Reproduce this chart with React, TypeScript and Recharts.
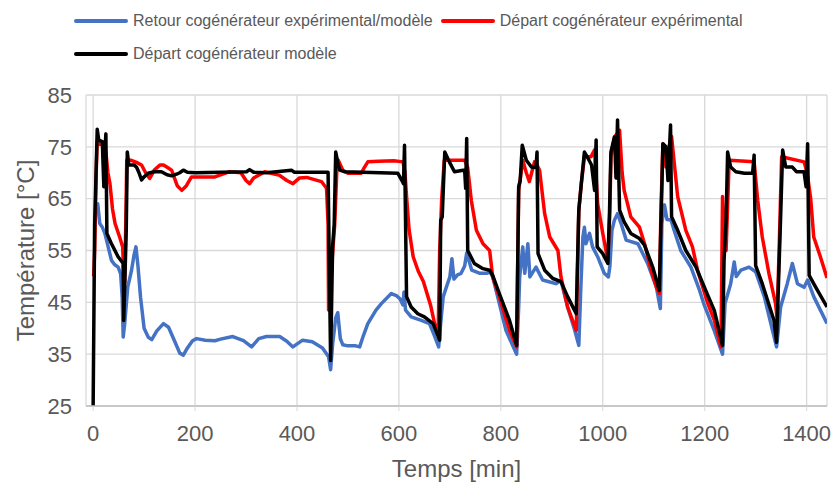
import React from 'react';
import { LineChart, Line, XAxis, YAxis, CartesianGrid, Label } from 'recharts';

// ---- Data (time in minutes, temperature in °C) ----
const retourT = [6, 9, 13, 18, 23, 30, 36, 42, 49, 54, 57, 59, 62, 68, 75, 80, 84, 88, 93, 100, 108, 115, 125, 138, 148, 160, 170, 177, 185, 195, 203, 220, 239, 250, 274, 295, 311, 325, 340, 366, 380, 392, 411, 430, 450, 462, 466, 470, 476, 480, 485, 490, 500, 515, 523, 530, 539, 555, 566, 585, 595, 602, 608, 610, 613, 624, 644, 660, 670, 678, 682, 687, 695, 700, 704, 708, 715, 722, 729, 733, 743, 759, 772, 779, 784, 797, 810, 831, 835, 837, 843, 847, 853, 857, 869, 882, 908, 918, 931, 945, 953, 957, 961, 964, 967, 974, 980, 990, 1003, 1011, 1014, 1018, 1023, 1029, 1036, 1046, 1069, 1088, 1105, 1113, 1116, 1121, 1126, 1134, 1140, 1153, 1173, 1190, 1199, 1219, 1235, 1240, 1251, 1258, 1262, 1271, 1287, 1300, 1317, 1333, 1341, 1349, 1362, 1372, 1382, 1395, 1402, 1414, 1440];
const retourV = [62, 64, 60.2, 59.5, 58.3, 55.5, 53.1, 52.3, 51.8, 50.5, 46, 38.3, 41, 48, 51, 54, 55.7, 52, 46, 40, 38.3, 37.8, 39.5, 40.9, 40.2, 37.5, 35.2, 34.8, 36.2, 37.6, 38, 37.7, 37.6, 37.9, 38.4, 37.6, 36.4, 38, 38.4, 38.4, 37.5, 36.4, 37.7, 37.4, 36.2, 34.5, 32, 37, 42, 43, 38, 36.8, 36.6, 36.6, 36.4, 38.5, 40.9, 43.5, 44.8, 46.7, 46.3, 45.7, 44.5, 47, 43.5, 42.2, 41.5, 40.9, 38.5, 36.4, 41, 46.1, 48.5, 49.9, 53.4, 49.5, 50.3, 50.6, 52, 54.5, 51.2, 50.6, 50.6, 50.9, 49.9, 44.8, 39.6, 35, 44, 49.9, 55.7, 50.6, 56.3, 49.9, 51.8, 49.3, 48.6, 49.2, 44.1, 39.6, 36.7, 48, 57.6, 59.5, 56.3, 58.3, 55.7, 53.8, 50.6, 49.9, 52, 58.9, 60.9, 62.1, 60.2, 57, 56.3, 52.5, 48, 43.8, 60.2, 63.8, 61, 60.9, 58.9, 55, 51.8, 47.3, 44.5, 39.5, 35, 44.8, 48.6, 52.8, 50, 51.2, 51.8, 50.9, 46.1, 39.6, 36.4, 44.1, 48.6, 52.5, 48.6, 47.9, 49.3, 46.1, 40.9];

const departExpT = [1, 3, 6, 8, 13, 20, 25, 29, 33, 38, 43, 52, 58, 60, 62, 64, 66, 75, 85, 95, 103, 111, 120, 131, 138, 146, 154, 165, 174, 183, 193, 215, 239, 268, 290, 300, 307, 315, 337, 366, 380, 392, 405, 419, 448, 458, 461, 462, 468, 474, 478, 481, 490, 500, 526, 532, 539, 560, 590, 608, 612, 615, 620, 628, 638, 648, 657, 662, 670, 677, 680, 684, 689, 695, 729, 735, 742, 752, 765, 778, 784, 797, 817, 831, 835, 843, 850, 856, 866, 871, 876, 886, 896, 912, 918, 931, 948, 953, 958, 964, 977, 984, 990, 1000, 1010, 1014, 1016, 1023, 1033, 1038, 1042, 1055, 1072, 1082, 1095, 1105, 1111, 1114, 1118, 1124, 1130, 1135, 1147, 1163, 1176, 1186, 1206, 1219, 1232, 1235, 1239, 1242, 1248, 1297, 1304, 1313, 1326, 1339, 1342, 1346, 1351, 1395, 1401, 1408, 1414, 1427, 1440];
const departExpV = [50, 55, 70, 76, 75.5, 75.5, 74, 70, 67.9, 63, 60.2, 57.6, 55.7, 50, 49, 60, 72.4, 72.4, 72, 71.5, 70, 68.9, 70.5, 71.5, 71.5, 71, 70.5, 67.5, 66.6, 67.5, 69.2, 69.2, 69.2, 70.2, 70, 68.5, 67.9, 69, 70.2, 69.5, 68.5, 67.9, 69, 69.1, 68.3, 67, 60, 43.5, 52, 60, 70, 72.4, 70.5, 69.9, 69.9, 71, 72.1, 72.2, 72.3, 72.1, 70, 65.4, 59, 53.8, 51, 49, 46.1, 44.5, 40.9, 39, 55, 65, 72.4, 72.4, 72.4, 71, 64.7, 58.9, 56.3, 55, 49.9, 46.1, 39.6, 36.4, 66.6, 72.4, 70, 68.3, 72.1, 71.5, 70.5, 62.1, 57.6, 55, 49.9, 44.1, 39.6, 62.8, 68, 73.1, 73.1, 74.4, 64, 58.3, 53.1, 63, 73.1, 76.9, 78.2, 70, 66.6, 61.5, 59.5, 56.3, 51.2, 48, 46.7, 62, 75.6, 71.1, 75, 77, 65.4, 58.9, 55.7, 51.2, 44.8, 41.5, 36.4, 65.4, 58, 55, 72.4, 72.1, 64.7, 57.6, 50.6, 44.8, 42, 55, 73.1, 72.1, 70, 65, 57.6, 53.8, 49.7];

const departModT = [0, 3, 8, 11, 18, 21, 23, 25, 27, 35, 49, 59, 60, 65, 67, 70, 80, 85, 90, 95, 100, 108, 120, 134, 145, 154, 165, 170, 177, 185, 200, 301, 307, 315, 340, 389, 395, 461, 466, 470, 473, 476, 480, 484, 494, 598, 606, 609, 611, 615, 624, 637, 650, 667, 680, 682, 685, 690, 699, 709, 726, 729, 731, 733, 735, 748, 765, 778, 784, 797, 817, 831, 835, 838, 842, 850, 860, 869, 871, 873, 886, 902, 918, 931, 948, 953, 958, 964, 971, 978, 984, 987, 989, 1000, 1010, 1013, 1016, 1023, 1026, 1029, 1033, 1042, 1055, 1072, 1082, 1098, 1111, 1118, 1124, 1128, 1133, 1135, 1147, 1163, 1183, 1202, 1219, 1235, 1238, 1242, 1245, 1251, 1261, 1278, 1294, 1297, 1300, 1313, 1336, 1341, 1348, 1353, 1359, 1372, 1380, 1395, 1399, 1402, 1405, 1418, 1440];
const departModV = [25, 60, 78.4, 76.3, 76, 67.3, 74, 77.5, 58.3, 56.5, 53.8, 52.5, 41.5, 59, 74, 71.5, 71.5, 71.1, 70, 68.6, 69.2, 69.9, 70.2, 70.2, 69.6, 69.4, 69.8, 70, 70.5, 70.1, 70, 70.2, 70.6, 70.1, 70, 70.5, 70.1, 70.1, 33.8, 56, 60, 74, 72, 70.5, 70.2, 69.9, 68.5, 67.9, 75.3, 46.1, 44.1, 42.8, 42.2, 40.9, 37.7, 60.8, 61.5, 74, 72.1, 70.2, 70.5, 70.5, 67, 76.6, 55, 52.5, 51.5, 51.2, 50.2, 46.7, 41.5, 36.7, 67.3, 68.5, 75.3, 72.4, 71.1, 71, 74, 54.4, 51.2, 49.6, 49, 46.1, 42.8, 62.8, 68, 74, 72.8, 71.5, 66.6, 76.3, 55.7, 54.4, 52.5, 61.5, 74, 76.9, 69, 80.2, 62.8, 60.5, 58.3, 57.3, 56, 51.8, 47.3, 75.6, 75, 68.5, 79.2, 61.5, 58.9, 55, 51.8, 47.3, 43.4, 36.7, 53.1, 60.9, 74, 71.1, 70.2, 69.9, 69.9, 73.4, 52.1, 48.6, 41.5, 37.3, 58.3, 74.4, 71.1, 71.1, 70.2, 70.2, 67.3, 75.6, 50.2, 47.9, 44.1];

const xTicks = [0, 200, 400, 600, 800, 1000, 1200, 1400];
const yTicks = [25, 35, 45, 55, 65, 75, 85];

const seriesNames = [
  'Retour cogénérateur expérimental/modèle',
  'Départ cogénérateur expérimental',
  'Départ cogénérateur modèle',
];
const seriesColors = ['#4472C4', '#FF0000', '#000000'];

const toPoints = (t: number[], v: number[]) => t.map((x, i) => ({ t: x, v: v[i] }));
const retourData = toPoints(retourT, retourV);
const departExpData = toPoints(departExpT, departExpV);
const departModData = toPoints(departModT, departModV);

const FONT = '"Liberation Sans", Arial, sans-serif';
const TEXT = '#595959';

function LegendBox() {
  return (
    <div
      style={{
        position: 'absolute',
        left: 74,
        top: 4,
        width: 700,
        display: 'flex',
        flexWrap: 'wrap',
        fontFamily: FONT,
        fontSize: 16,
        color: TEXT,
      }}
    >
      {seriesNames.map((name, i) => (
        <div key={name} style={{ display: 'flex', alignItems: 'center', height: 33, marginRight: 8 }}>
          <div style={{ width: 54, height: 4, background: seriesColors[i], borderRadius: 2, marginRight: 5 }} />
          <span style={{ whiteSpace: 'nowrap' }}>{name}</span>
        </div>
      ))}
    </div>
  );
}

export default function App() {
  return (
    <div style={{ position: 'absolute', left: 0, top: 0, width: 834, height: 482, background: '#fff' }}>
      <LegendBox />
      <LineChart width={834} height={482} margin={{ top: 95, right: 7, bottom: 0, left: 0 }}>
        <CartesianGrid stroke="#D9D9D9" strokeWidth={1.3} />
        <XAxis
          dataKey="t"
          type="number"
          domain={[-14, 1440]}
          ticks={xTicks}
          allowDataOverflow
          height={76}
          tickSize={5}
          tickMargin={14}
          stroke="#BFBFBF"
          tickLine={{ stroke: '#D9D9D9' }}
          axisLine={{ stroke: '#BFBFBF', strokeWidth: 1.5 }}
          tick={{ fill: TEXT, fontSize: 22, fontFamily: FONT }}
        >
          <Label
            value="Temps [min]"
            position="insideBottom"
            offset={5}
            style={{ fill: TEXT, fontSize: 24, fontFamily: FONT }}
          />
        </XAxis>
        <YAxis
          type="number"
          domain={[25, 85]}
          ticks={yTicks}
          width={86}
          axisLine={false}
          tickLine={false}
          tickSize={0}
          tickMargin={14}
          tick={{ fill: TEXT, fontSize: 22, fontFamily: FONT }}
        >
          <Label
            content={(props: any) => {
              const vb = props.viewBox || { x: 0, y: 95, width: 86, height: 311 };
              const cx = vb.x + 25;
              const cy = vb.y + vb.height / 2;
              return (
                <text
                  x={cx}
                  y={cy}
                  transform={`rotate(-90 ${cx} ${cy})`}
                  textAnchor="middle"
                  dominantBaseline="central"
                  fill={TEXT}
                  fontSize={24}
                  fontFamily={FONT}
                >
                  Température [°C]
                </text>
              );
            }}
          />
        </YAxis>
        <Line
          data={retourData}
          dataKey="v"
          type="linear"
          stroke={seriesColors[0]}
          strokeWidth={3.5}
          strokeLinejoin="round"
          dot={false}
          isAnimationActive={false}
        />
        <Line
          data={departExpData}
          dataKey="v"
          type="linear"
          stroke={seriesColors[1]}
          strokeWidth={3.5}
          strokeLinejoin="round"
          dot={false}
          isAnimationActive={false}
        />
        <Line
          data={departModData}
          dataKey="v"
          type="linear"
          stroke={seriesColors[2]}
          strokeWidth={3.5}
          strokeLinejoin="round"
          dot={false}
          isAnimationActive={false}
        />
      </LineChart>
    </div>
  );
}
